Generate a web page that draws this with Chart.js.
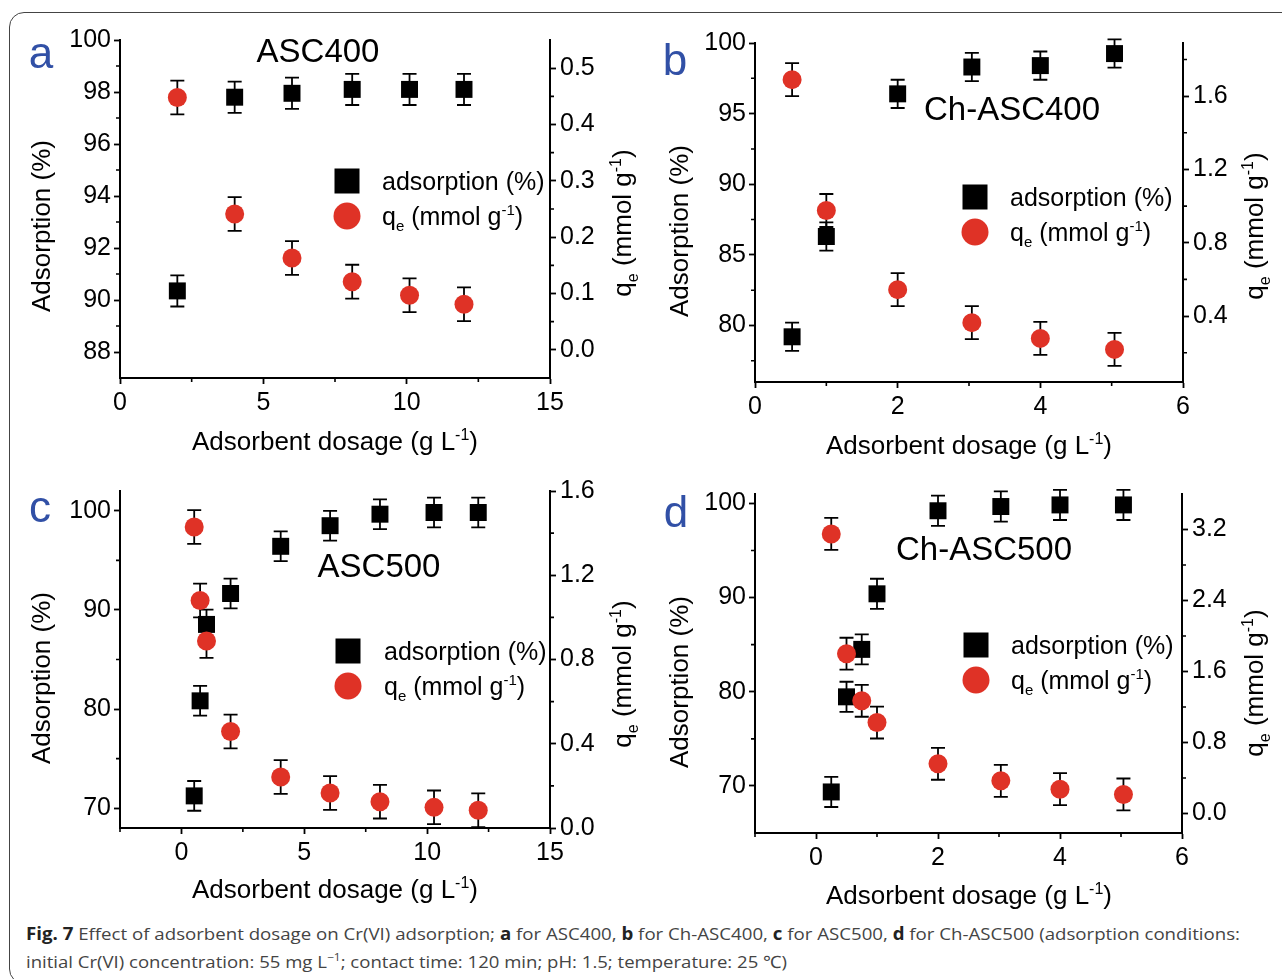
<!DOCTYPE html>
<html><head><meta charset="utf-8">
<script src="https://cdn.jsdelivr.net/npm/chart.js@4/dist/chart.umd.min.js"></script>
<style>
html,body{margin:0;padding:0;background:#fff;}
body{width:1282px;height:979px;position:relative;overflow:hidden;}
canvas{position:absolute;}
#frame{position:absolute;left:9px;top:12px;width:1300px;height:972px;border:1.5px solid #444;border-radius:15px;box-sizing:border-box;}
.capline{position:absolute;left:26px;white-space:nowrap;font-family:"Open Sans","Noto Sans",sans-serif;font-size:17px;color:#444;transform-origin:0 0;}
.capline b{color:#222;}
</style></head><body>
<div id="frame"></div>
<canvas id="ca" width="641" height="470" style="left:0;top:0"></canvas>
<canvas id="cb" width="641" height="470" style="left:641px;top:0"></canvas>
<canvas id="cc" width="641" height="440" style="left:0;top:470px"></canvas>
<canvas id="cd" width="641" height="440" style="left:641px;top:470px"></canvas>
<div class="capline" data-w="1214" style="top:922px"><b>Fig. 7</b> Effect of adsorbent dosage on Cr(VI) adsorption; <b>a</b> for ASC400, <b>b</b> for Ch-ASC400, <b>c</b> for ASC500, <b>d</b> for Ch-ASC500 (adsorption conditions:</div>
<div class="capline" data-w="761" style="top:949px">initial Cr(VI) concentration: 55 mg L<sup style="font-size:11px">−1</sup>; contact time: 120 min; pH: 1.5; temperature: 25 ℃)</div>
<script>
// ---------- data ----------
// Panel a: ASC400
const dosageA = [2, 4, 6, 8.1, 10.1, 12];
const adsorptionA = [90.35, 97.8, 97.95, 98.1, 98.1, 98.1];
const adsorptionErrA = [0.6, 0.6, 0.6, 0.6, 0.6, 0.6];
const qeA = [0.448, 0.241, 0.163, 0.121, 0.097, 0.081];
const qeErrA = [0.03, 0.03, 0.03, 0.03, 0.03, 0.03];
// Panel b: Ch-ASC400
const dosageB = [0.52, 1, 2, 3.04, 4, 5.04];
const adsorptionB = [79.2, 86.3, 96.4, 98.3, 98.4, 99.25];
const adsorptionErrB = [1.0, 1.0, 1.0, 1.0, 1.0, 1.0];
const qeB = [1.69, 0.976, 0.544, 0.364, 0.278, 0.218];
const qeErrB = [0.09, 0.09, 0.09, 0.09, 0.09, 0.09];
// Panel c: ASC500
const dosageC = [0.52, 0.76, 1.02, 2, 4.04, 6.05, 8.08, 10.28, 12.08];
const adsorptionC = [71.24, 80.83, 88.54, 91.66, 96.42, 98.5, 99.66, 99.83, 99.83];
const adsorptionErrC = [1.5, 1.5, 1.5, 1.5, 1.5, 1.5, 1.5, 1.5, 1.5];
const qeC = [1.429, 1.08, 0.888, 0.458, 0.242, 0.166, 0.125, 0.098, 0.084];
const qeErrC = [0.08, 0.08, 0.08, 0.08, 0.08, 0.08, 0.08, 0.08, 0.08];
// Panel d: Ch-ASC500
const dosageD = [0.25, 0.5, 0.75, 1, 2, 3.03, 4, 5.04];
const adsorptionD = [69.36, 79.46, 84.5, 90.4, 99.22, 99.67, 99.84, 99.84];
const adsorptionErrD = [1.6, 1.6, 1.6, 1.6, 1.6, 1.6, 1.6, 1.6];
const qeD = [3.15, 1.80, 1.27, 1.025, 0.56, 0.368, 0.274, 0.214];
const qeErrD = [0.18, 0.18, 0.18, 0.18, 0.18, 0.18, 0.18, 0.18];

// ---------- axis ticks ----------
const xTicksA = [0, 5, 10, 15], xMinorA = [2.5, 7.5, 12.5];
const yTicksA = [88, 90, 92, 94, 96, 98, 100], yMinorA = [89, 91, 93, 95, 97, 99];
const y1TicksA = [0, 0.1, 0.2, 0.3, 0.4, 0.5], y1MinorA = [0.05, 0.15, 0.25, 0.35, 0.45];
const xTicksB = [0, 2, 4, 6], xMinorB = [1, 3, 5];
const yTicksB = [80, 85, 90, 95, 100], yMinorB = [77.5, 82.5, 87.5, 92.5, 97.5];
const y1TicksB = [0.4, 0.8, 1.2, 1.6], y1MinorB = [0.2, 0.6, 1.0, 1.4, 1.8];
const xTicksC = [0, 5, 10, 15], xMinorC = [-2.5, 2.5, 7.5, 12.5];
const yTicksC = [70, 80, 90, 100], yMinorC = [75, 85, 95];
const y1TicksC = [0, 0.4, 0.8, 1.2, 1.6], y1MinorC = [0.2, 0.6, 1.0, 1.4];
const xTicksD = [0, 2, 4, 6], xMinorD = [-1, 1, 3, 5];
const yTicksD = [70, 80, 90, 100], yMinorD = [75, 85, 95];
const y1TicksD = [0, 0.8, 1.6, 2.4, 3.2], y1MinorD = [0.4, 1.2, 2.0, 2.8];

const panelLabels = ['a', 'b', 'c', 'd'];
const panelTitles = ['ASC400', 'Ch-ASC400', 'ASC500', 'Ch-ASC500'];
const legendAds = 'adsorption (%)';
const yTitle = 'Adsorption (%)';

// ---------- style ----------
const RED = '#df3226';
const BLUE = '#3150a6';
const FONT = '"Liberation Sans", Arial, Helvetica, sans-serif';

function rich(ctx, parts, cx, cy, size, align, rot, color) {
  ctx.save();
  ctx.translate(cx, cy);
  if (rot) ctx.rotate(rot);
  const small = Math.round(size * 0.6);
  let w = 0;
  const ms = parts.map(p => { ctx.font = (p[1] ? small : size) + 'px ' + FONT; const m = ctx.measureText(p[0]).width; w += m; return m; });
  let x = align === 'left' ? 0 : -w / 2;
  const base = size * 0.36;
  ctx.fillStyle = color || '#000';
  ctx.textBaseline = 'alphabetic';
  ctx.textAlign = 'left';
  parts.forEach((p, i) => {
    ctx.font = (p[1] ? small : size) + 'px ' + FONT;
    const dy = p[1] === 1 ? size * 0.25 : p[1] === 2 ? -size * 0.40 : 0;
    ctx.fillText(p[0], x, base + dy);
    x += ms[i];
  });
  ctx.restore();
}
const qeParts = [['q', 0], ['e', 1], [' (mmol g', 0], ['-1', 2], [')', 0]];
const xTitleParts = [['Adsorbent dosage (g L', 0], ['-1', 2], [')', 0]];

function decorPlugin(L) {
  return {
    id: 'decor',
    beforeDatasetsDraw(chart) {
      const ctx = chart.ctx, xs = chart.scales.x;
      ctx.save();
      ctx.strokeStyle = '#000'; ctx.lineWidth = 1.8;
      const bar = (xv, yv, e, sc) => {
        const px = xs.getPixelForValue(xv), a = sc.getPixelForValue(yv + e), b = sc.getPixelForValue(yv - e);
        ctx.beginPath();
        ctx.moveTo(px, a); ctx.lineTo(px, b);
        ctx.moveTo(px - 7, a); ctx.lineTo(px + 7, a);
        ctx.moveTo(px - 7, b); ctx.lineTo(px + 7, b);
        ctx.stroke();
      };
      L.x.forEach((xv, i) => { bar(xv, L.ads[i], L.adsErr[i], chart.scales.y); bar(xv, L.qe[i], L.qeErr[i], chart.scales.y1); });
      ctx.restore();
    },
    afterDraw(chart) {
      const ctx = chart.ctx, ca = chart.chartArea;
      const ox = L.ox, oy = L.oy;
      ctx.save();
      // minor ticks
      ctx.strokeStyle = '#000'; ctx.lineWidth = 1.6;
      ctx.beginPath();
      L.xMinor.forEach(v => { const p = chart.scales.x.getPixelForValue(v); ctx.moveTo(p, ca.bottom); ctx.lineTo(p, ca.bottom + 4); });
      L.yMinor.forEach(v => { const p = chart.scales.y.getPixelForValue(v); ctx.moveTo(ca.left, p); ctx.lineTo(ca.left - 4, p); });
      L.y1Minor.forEach(v => { const p = chart.scales.y1.getPixelForValue(v); ctx.moveTo(ca.right, p); ctx.lineTo(ca.right + 4, p); });
      ctx.stroke();
      // panel letter
      ctx.fillStyle = BLUE; ctx.font = '44px ' + FONT; ctx.textAlign = 'center'; ctx.textBaseline = 'alphabetic';
      ctx.fillText(L.label, L.labelPos[0] - ox, L.labelPos[1] - oy);
      // title
      ctx.fillStyle = '#000'; ctx.font = '33px ' + FONT; ctx.textBaseline = 'middle';
      ctx.fillText(L.title, L.titlePos[0] - ox, L.titlePos[1] - oy);
      // axis titles
      rich(ctx, [[yTitle, 0]], L.yT[0] - ox, L.yT[1] - oy, 26, 'center', -Math.PI / 2);
      rich(ctx, qeParts, L.y1T[0] - ox, L.y1T[1] - oy, 26, 'center', -Math.PI / 2);
      rich(ctx, xTitleParts, L.xT[0] - ox, L.xT[1] - oy, 26, 'center', 0);
      // legend
      const sx = L.leg[0] - ox, sy = L.leg[1] - oy, cy2 = L.leg[2] - oy;
      ctx.fillStyle = '#000'; ctx.fillRect(sx - 12.5, sy - 12.5, 25, 25);
      ctx.fillStyle = RED; ctx.beginPath(); ctx.arc(sx, cy2, 13.5, 0, Math.PI * 2); ctx.fill();
      rich(ctx, [[legendAds, 0]], L.leg[3] - ox, sy, 25, 'left', 0);
      rich(ctx, qeParts, L.leg[3] - ox, cy2, 25, 'left', 0);
      ctx.restore();
    }
  };
}

function axis(pos, min, max, ticks, dec, fit) {
  return {
    type: 'linear', position: pos, min: min, max: max,
    afterBuildTicks: s => { s.ticks = ticks.map(v => ({ value: v })); },
    afterFit: s => { if (pos === 'bottom') s.height = fit; else s.width = fit; },
    ticks: { autoSkip: false, maxRotation: 0, color: '#000', font: { family: FONT, size: 25 },
      padding: pos === 'bottom' ? 4 : (pos === 'left' ? 3 : 4),
      callback: v => Number(v).toFixed(dec) },
    grid: { display: true, drawOnChartArea: false, drawTicks: true, tickLength: 6, tickWidth: 1.8, tickColor: '#000' },
    border: { display: true, color: '#000', width: 2 }
  };
}

function makeChart(id, L) {
  const W = L.w, H = L.h;
  new Chart(document.getElementById(id), {
    type: 'scatter',
    data: { datasets: [
      { label: 'qe', data: L.x.map((v, i) => ({ x: v, y: L.qe[i] })), yAxisID: 'y1', pointStyle: 'circle', pointRadius: 9.5,
        backgroundColor: RED, borderColor: RED, borderWidth: 0, order: 1 },
      { label: 'adsorption', data: L.x.map((v, i) => ({ x: v, y: L.ads[i] })), yAxisID: 'y', pointStyle: 'rect', pointRadius: 12,
        backgroundColor: '#000', borderColor: '#000', borderWidth: 0, order: 2 }
    ] },
    options: {
      responsive: false, animation: false, devicePixelRatio: 1, events: [],
      layout: { padding: { top: L.plot[2] - L.oy, left: 0, right: 0, bottom: 0 } },
      plugins: { legend: { display: false }, tooltip: { enabled: false } },
      scales: {
        x: axis('bottom', L.xr[0], L.xr[1], L.xTicks, 0, H - (L.plot[3] - L.oy)),
        y: axis('left', L.yr[0], L.yr[1], L.yTicks, 0, L.plot[0] - L.ox),
        y1: axis('right', L.y1r[0], L.y1r[1], L.y1Ticks, 1, W - (L.plot[1] - L.ox))
      }
    },
    plugins: [decorPlugin(L)]
  });
}

makeChart('ca', { ox: 0, oy: 0, w: 641, h: 470, plot: [120, 550, 40, 378],
  x: dosageA, ads: adsorptionA, adsErr: adsorptionErrA, qe: qeA, qeErr: qeErrA,
  xr: [0, 15], yr: [87, 100], y1r: [-0.05, 0.55],
  xTicks: xTicksA, xMinor: xMinorA, yTicks: yTicksA, yMinor: yMinorA, y1Ticks: y1TicksA, y1Minor: y1MinorA,
  label: panelLabels[0], labelPos: [41, 68], title: panelTitles[0], titlePos: [318, 53],
  yT: [41, 226], y1T: [622, 223], xT: [335, 441], leg: [347, 181, 216, 382] });

makeChart('cb', { ox: 641, oy: 0, w: 641, h: 470, plot: [755, 1183, 43, 382],
  x: dosageB, ads: adsorptionB, adsErr: adsorptionErrB, qe: qeB, qeErr: qeErrB,
  xr: [0, 6], yr: [76, 100], y1r: [0.04, 1.89],
  xTicks: xTicksB, xMinor: xMinorB, yTicks: yTicksB, yMinor: yMinorB, y1Ticks: y1TicksB, y1Minor: y1MinorB,
  label: panelLabels[1], labelPos: [675, 75], title: panelTitles[1], titlePos: [1012, 111],
  yT: [679, 231], y1T: [1254, 226], xT: [969, 445], leg: [975, 197, 232, 1010] });

makeChart('cc', { ox: 0, oy: 470, w: 641, h: 440, plot: [120, 550, 491, 828],
  x: dosageC, ads: adsorptionC, adsErr: adsorptionErrC, qe: qeC, qeErr: qeErrC,
  xr: [-2.5, 15], yr: [68, 102], y1r: [0, 1.6],
  xTicks: xTicksC, xMinor: xMinorC, yTicks: yTicksC, yMinor: yMinorC, y1Ticks: y1TicksC, y1Minor: y1MinorC,
  label: panelLabels[2], labelPos: [40, 522], title: panelTitles[2], titlePos: [379, 568],
  yT: [41, 678], y1T: [622, 674], xT: [335, 889], leg: [348, 651, 686, 384] });

makeChart('cd', { ox: 641, oy: 470, w: 641, h: 440, plot: [755, 1182, 494, 833],
  x: dosageD, ads: adsorptionD, adsErr: adsorptionErrD, qe: qeD, qeErr: qeErrD,
  xr: [-1, 6], yr: [65, 101], y1r: [-0.22, 3.6],
  xTicks: xTicksD, xMinor: xMinorD, yTicks: yTicksD, yMinor: yMinorD, y1Ticks: y1TicksD, y1Minor: y1MinorD,
  label: panelLabels[3], labelPos: [676, 527], title: panelTitles[3], titlePos: [984, 551],
  yT: [679, 682], y1T: [1254, 683], xT: [969, 895], leg: [976, 645, 680, 1011] });

document.querySelectorAll('.capline').forEach(el => {
  const w = el.getBoundingClientRect().width;
  el.style.transform = 'scaleX(' + (+el.dataset.w / w) + ')';
});
</script>
</body></html>
